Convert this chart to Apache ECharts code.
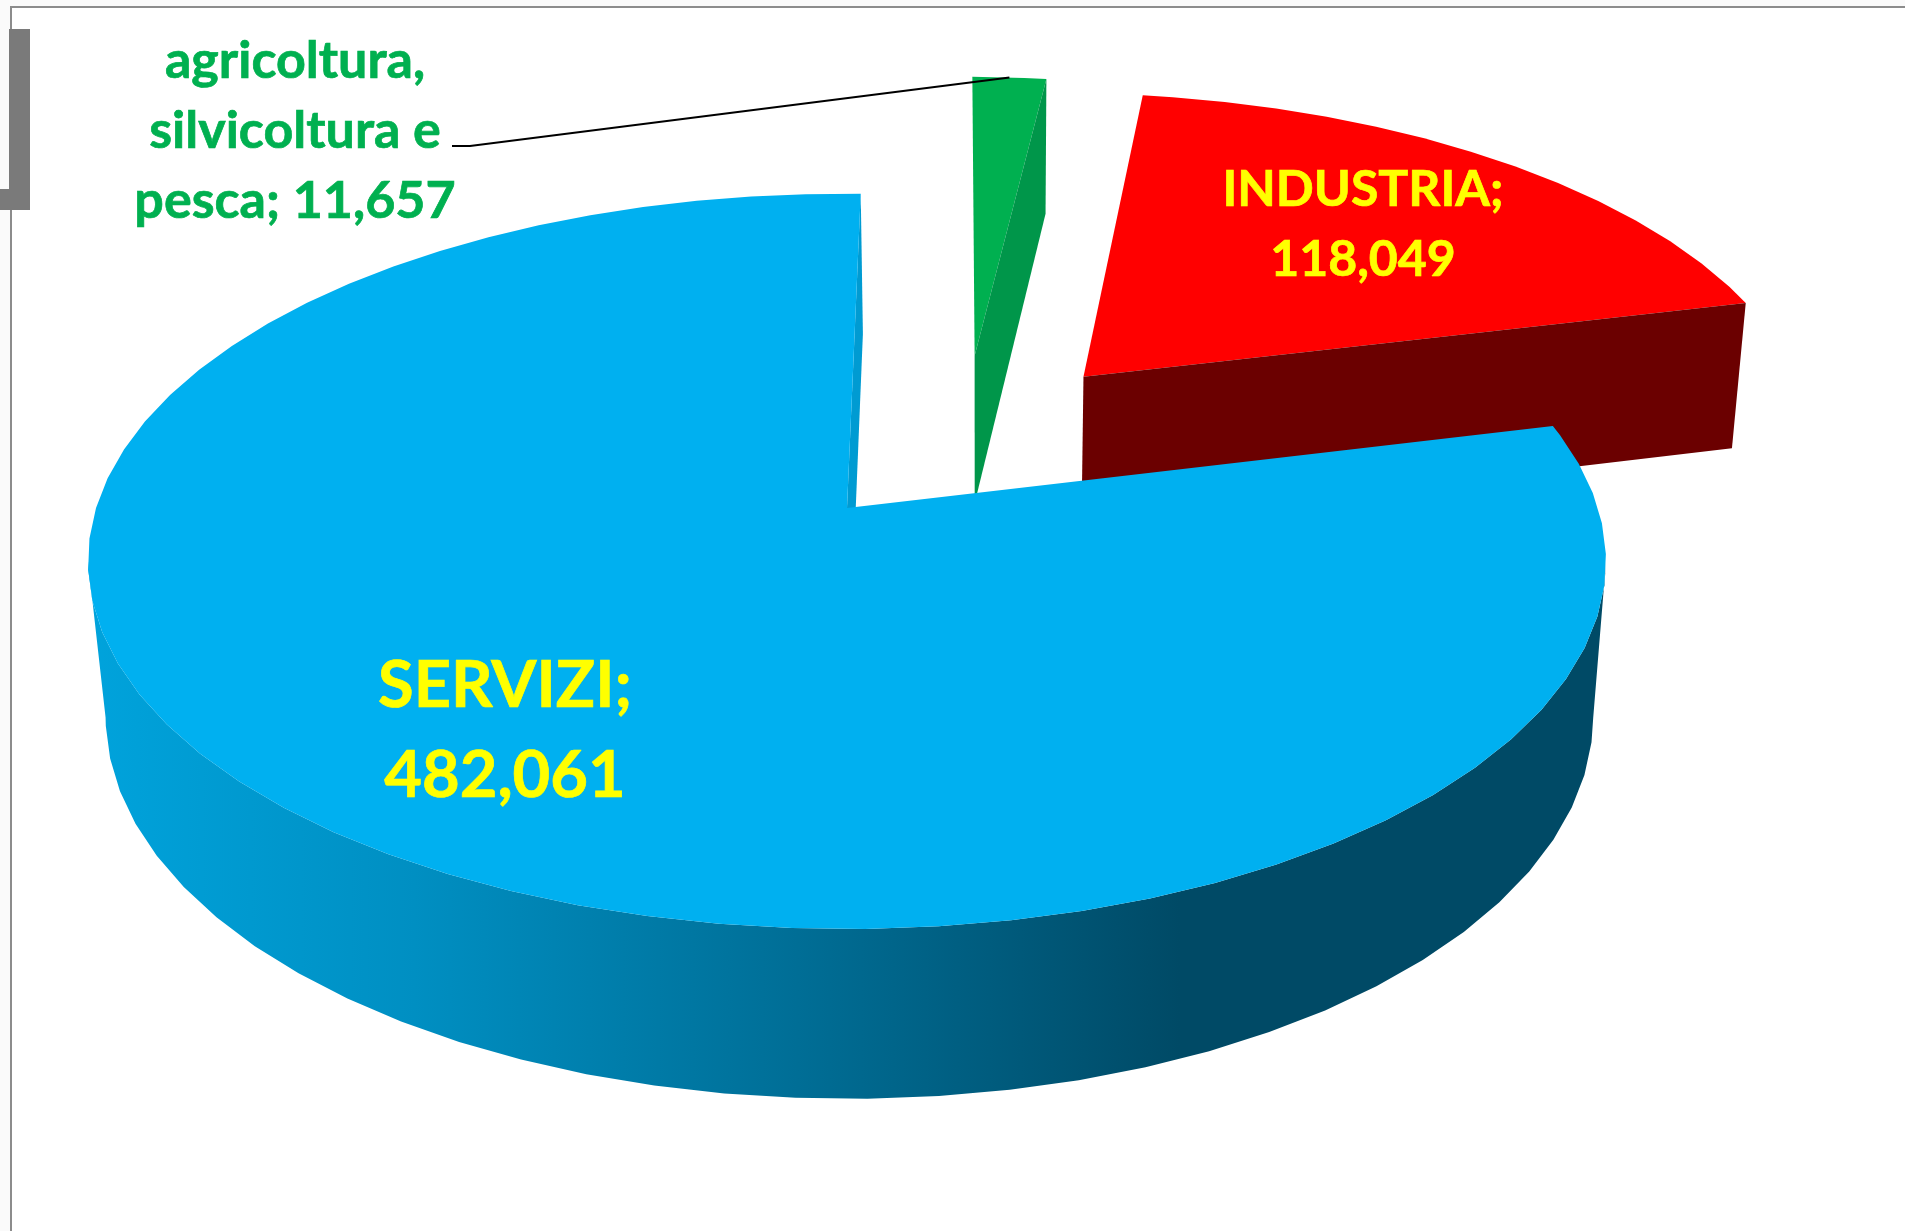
<!DOCTYPE html>
<html><head><meta charset="utf-8">
<style>html,body{margin:0;padding:0;background:#fff}#c{width:1905px;height:1231px}</style>
<script src="https://cdn.jsdelivr.net/npm/echarts@6/dist/echarts.min.js"></script>
</head><body><div id="c"></div>
<script>
// ---- data ----
var categories = ['agricoltura, silvicoltura e pesca', 'INDUSTRIA', 'SERVIZI'];
var values = [11657, 118049, 482061];
var labelLines = [['agricoltura,', 'silvicoltura e', 'pesca; 11,657'], ['INDUSTRIA;', '118,049'], ['SERVIZI;', '482,061']];
var topColors = ['#00B050', '#FF0000', '#00B0F0'];
var wallColors = ['#00964A', '#6B0000', '#009BD2'];
var labelColors = ['#00B050', '#FFFF00', '#FFFF00'];

// ---- perspective model of the 3D pie (unit disc -> screen) ----
var VIEW = {xp: 847, yp: 508, a: 751, b: 360, t: 157, k: 0.145, m: 0.02, skew: 2.4, x0: 0, explode: 0.2535, explodeX: 1.01, first: 1.2, warp: 1.2, facet: 4.8};
function project(X, Y, Z) {
  var w = 1 - VIEW.k * Y + VIEW.m * Z;
  return [VIEW.xp + VIEW.a * X / w + VIEW.skew * Z, VIEW.yp + (VIEW.b * Y + VIEW.t * Z) / w];
}
var rad = Math.PI / 180;
var total = values.reduce(function (s, v) { return s + v; }, 0);
function warped(d) { var s = Math.sin(d * rad); return VIEW.first + d - VIEW.warp * s * s; }
var slices = [], acc = 0;
values.forEach(function (v) {
  var from = warped(acc / total * 360); acc += v;
  var to = warped(acc / total * 360);
  slices.push({from: from, to: to, mid: (from + to) / 2});
});
function unit(t) { return [Math.sin(t * rad), -Math.cos(t * rad)]; }
function offset(s) { var u = unit(s.mid); return [VIEW.explode * VIEW.explodeX * u[0], VIEW.explode * u[1]]; }
var lastO = offset(slices[2]);
var centre = [VIEW.x0 - lastO[0], -lastO[1]];
function apex(s) { var o = offset(s); return [centre[0] + o[0], centre[1] + o[1]]; }
function rimPt(s, t, Z) { var o = apex(s), u = unit(t); return project(o[0] + u[0], o[1] + u[1], Z); }
function apexPt(s, Z) { var o = apex(s); return project(o[0], o[1], Z); }
function rimAngles(from, to) {
  var out = [from], n = Math.ceil((from - VIEW.first) / VIEW.facet + 1e-6);
  for (var t = VIEW.first + n * VIEW.facet; t < to - 1e-6; t += VIEW.facet) out.push(t);
  out.push(to); return out;
}
// rim angles where the disc outline is tangent to the extrusion direction
var tangentR = Math.acos(-VIEW.k) / rad, tangentL = 360 - tangentR;

var wallGradient = new echarts.graphic.LinearGradient(87, 0, 1180, 0, [
  {offset: 0, color: '#00A3DC'}, {offset: 0.3, color: '#008FC2'}, {offset: 0.65, color: '#006E96'}, {offset: 1, color: '#004A66'}
], true);

function renderSlice(params, api) {
  var i = params.dataIndex, s = slices[i], kids = [];
  var topRim = rimAngles(s.from, s.to).map(function (t) { return rimPt(s, t, 0); });
  var A0 = apexPt(s, 0), A1 = apexPt(s, 1);
  if (i === 2) {
    var ang = rimAngles(tangentR, tangentL);
    var band = ang.map(function (t) { return rimPt(s, t, 0); }).concat(ang.slice().reverse().map(function (t) { return rimPt(s, t, 1); }));
    kids.push({type: 'polygon', shape: {points: band}, style: {fill: wallGradient}});
    kids.push({type: 'polygon', shape: {points: [rimPt(s, s.to, 0), rimPt(s, s.to, 1), A1, A0]}, style: {fill: wallColors[i]}});
    kids.push({type: 'polygon', shape: {points: [A0].concat(topRim)}, style: {fill: topColors[i]}});
  } else {
    kids.push({type: 'polygon', shape: {points: [A0].concat(topRim)}, style: {fill: topColors[i]}});
    kids.push({type: 'polygon', shape: {points: [A0, rimPt(s, s.to, 0), rimPt(s, s.to, 1), A1]}, style: {fill: wallColors[i]}});
  }
  return {type: 'group', children: kids};
}

// labels and leader line
var labelPos = [[295, 61], [1363, 190], [505, 686]];
var labelFont = [52, 50, 65];
var labelLead = [70, 70, 90];
function labelGraphics() {
  var out = [];
  labelLines.forEach(function (lines, i) {
    lines.forEach(function (txt, j) {
      out.push({type: 'text', z: 10, x: labelPos[i][0], y: labelPos[i][1] + j * labelLead[i],
        style: {text: txt, fill: labelColors[i], stroke: labelColors[i], lineWidth: 0.7, font: 'bold ' + labelFont[i] + 'px Lato', textAlign: 'center', textVerticalAlign: 'middle'}});
    });
  });
  var g = slices[0], end = rimPt(g, g.mid, 0);
  out.push({type: 'polyline', z: 9, shape: {points: [[452, 146], [470, 146], end]}, style: {stroke: '#000', lineWidth: 2, fill: null}});
  return out;
}

var chart = echarts.init(document.getElementById('c'), null, {renderer: 'canvas', width: 1905, height: 1231});
chart.setOption({
  backgroundColor: '#fff',
  animation: false,
  graphic: [
    {type: 'rect', z: 0, shape: {x: 0, y: 0, width: 1905, height: 6}, style: {fill: '#FAFAFA'}},
    {type: 'rect', z: 0, shape: {x: 0, y: 0, width: 10, height: 1231}, style: {fill: '#FAFAFA'}},
    {type: 'line', z: 1, shape: {x1: 10, y1: 7, x2: 1905, y2: 7}, style: {stroke: '#8C8C8C', lineWidth: 2}},
    {type: 'line', z: 1, shape: {x1: 11, y1: 7, x2: 11, y2: 1231}, style: {stroke: '#8C8C8C', lineWidth: 2}},
    {type: 'rect', z: 2, shape: {x: 9, y: 29, width: 21, height: 181}, style: {fill: '#7A7A7A'}},
    {type: 'rect', z: 2, shape: {x: 0, y: 189, width: 9, height: 21}, style: {fill: '#7A7A7A'}}
  ].concat(labelGraphics()),
  series: [{
    type: 'custom',
    coordinateSystem: 'none',
    silent: true,
    z: 5,
    data: values.map(function (v, i) { return {name: categories[i], value: v}; }),
    renderItem: renderSlice
  }]
});
</script></body></html>
